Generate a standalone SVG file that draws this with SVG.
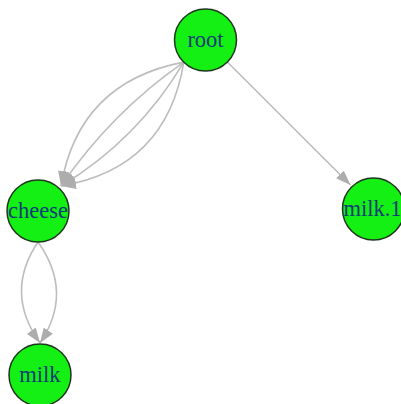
<svg xmlns="http://www.w3.org/2000/svg" width="401" height="404" viewBox="0 0 401 404">
<style>
.edge{fill:none;stroke:#BDBDBD;stroke-width:1.6;marker-end:url(#arrow)}
.node circle{fill:#14F014;stroke:#1E361E;stroke-width:1.5}
.node text{font-family:"Liberation Serif","Times New Roman",serif;font-size:22.5px;fill:#0B3B78;text-anchor:middle}
</style>
<defs>
<marker id="arrow" viewBox="0 0 15 11" refX="15" refY="5.5" markerWidth="15" markerHeight="11" markerUnits="userSpaceOnUse" orient="auto">
<path d="M0,0 L15,5.5 L0,11 Z" fill="#ADADAD"/>
</marker>
</defs>
<rect width="401" height="404" fill="#FFFFFF"/>
<g id="connectors">
<path class="edge" d="M183.8,62.1 Q79,82 61,186"/>
<path class="edge" d="M183.8,62.1 Q111,112.9 61,186"/>
<path class="edge" d="M183.8,62.1 Q138.1,139.4 61,186"/>
<path class="edge" d="M183.8,62.1 Q166.5,168 61,186"/>
<path class="edge" d="M227.4,62 L350.5,185"/>
<path class="edge" d="M38,242 Q4,292.5 40,343"/>
<path class="edge" d="M38,242 Q74,292.5 40,343"/>
</g>
<g id="node-root" class="node">
<circle cx="205.5" cy="40" r="31"/>
<text x="205.5" y="46.5">root</text>
</g>
<g id="node-cheese" class="node">
<circle cx="38" cy="211" r="31"/>
<text x="38" y="217.5">cheese</text>
</g>
<g id="node-milk" class="node">
<circle cx="40" cy="375" r="31"/>
<text x="40" y="381.5">milk</text>
</g>
<g id="node-milk1" class="node">
<circle cx="373.5" cy="209" r="31"/>
<text x="372.5" y="215.5">milk.1</text>
</g>
</svg>
